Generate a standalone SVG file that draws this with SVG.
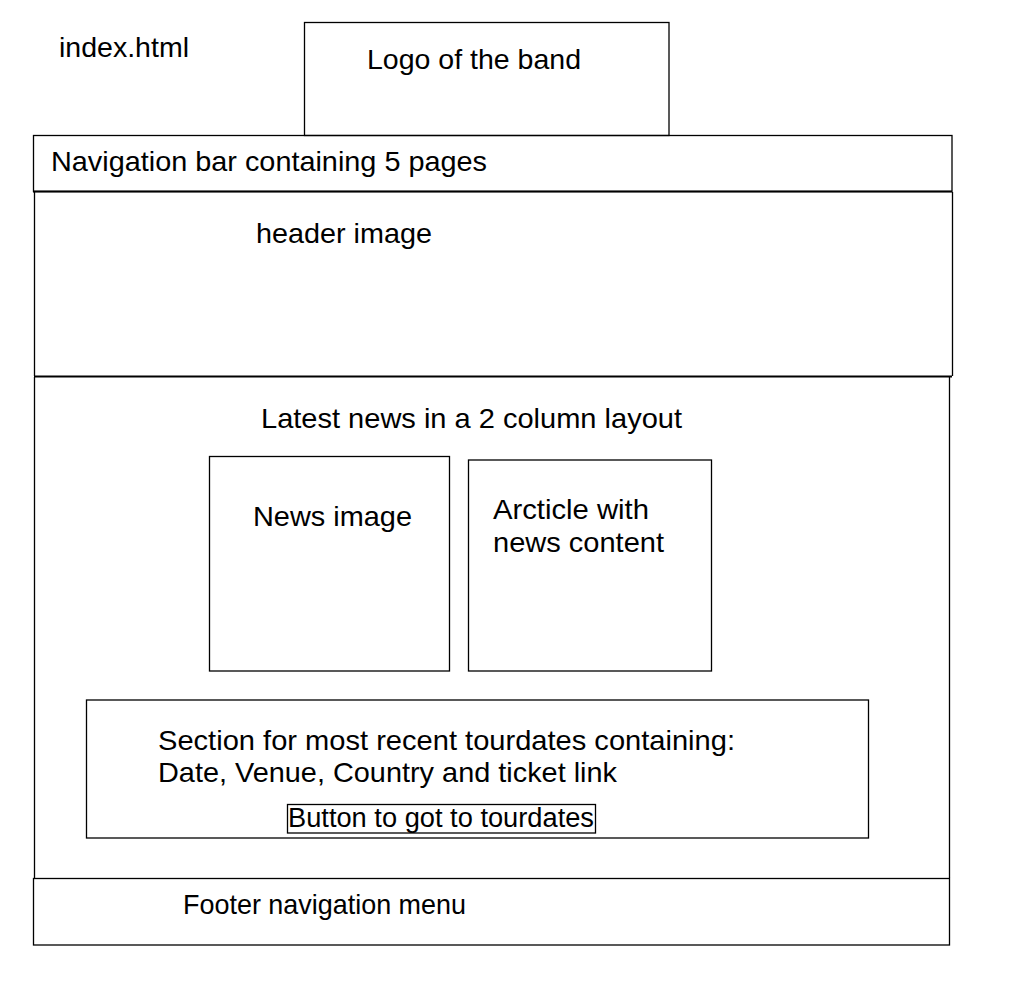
<svg xmlns="http://www.w3.org/2000/svg" width="1024" height="1001" viewBox="0 0 1024 1001">
<style>
.b{fill:none;stroke:#000;stroke-width:1.3}
.t{font-family:"Liberation Sans",Arial,sans-serif;font-size:28.5px;fill:#000}
</style>
<rect x="0" y="0" width="1024" height="1001" fill="#fff"/>
<g id="title"><text class="t" x="59" y="57" textLength="130" lengthAdjust="spacingAndGlyphs">index.html</text></g>
<g id="logo"><rect class="b" x="304.5" y="22.5" width="364.5" height="113"/><text class="t" x="367" y="68.5" textLength="214" lengthAdjust="spacingAndGlyphs">Logo of the band</text></g>
<g id="navbar"><rect class="b" x="33.5" y="135.5" width="918.5" height="56"/><line x1="33" y1="191.5" x2="952" y2="191.5" stroke="#000" stroke-width="2"/><text class="t" x="51" y="170.5" textLength="436" lengthAdjust="spacingAndGlyphs">Navigation bar containing 5 pages</text></g>
<g id="header"><path class="b" d="M34.5 192V376M952.5 192V376"/><line x1="34" y1="376.5" x2="952" y2="376.5" stroke="#000" stroke-width="2"/><text class="t" x="256" y="243" textLength="176" lengthAdjust="spacingAndGlyphs">header image</text></g>
<g id="main"><path class="b" d="M34.5 377V878M949.5 377V878"/><text class="t" x="261" y="427.5" textLength="421" lengthAdjust="spacingAndGlyphs">Latest news in a 2 column layout</text></g>
<g id="news-image"><rect class="b" x="209.5" y="456.5" width="240" height="214.5"/><text class="t" x="253" y="526" textLength="159" lengthAdjust="spacingAndGlyphs">News image</text></g>
<g id="article"><rect class="b" x="468.5" y="460" width="243" height="211"/><text class="t" x="493" y="519" textLength="156" lengthAdjust="spacingAndGlyphs">Arcticle with</text><text class="t" x="493" y="551.5" textLength="171" lengthAdjust="spacingAndGlyphs">news content</text></g>
<g id="tour"><rect class="b" x="86.5" y="700" width="782" height="138"/><text class="t" x="158" y="750" textLength="577" lengthAdjust="spacingAndGlyphs">Section for most recent tourdates containing:</text><text class="t" x="158" y="782" textLength="459" lengthAdjust="spacingAndGlyphs">Date, Venue, Country and ticket link</text></g>
<g id="button"><rect class="b" x="287.5" y="804.5" width="308" height="28.5"/><text class="t" x="288" y="826.5" style="font-size:27px" textLength="306" lengthAdjust="spacingAndGlyphs">Button to got to tourdates</text></g>
<g id="footer"><rect class="b" x="33.5" y="878.5" width="916" height="66.5"/><text class="t" x="183" y="913.5" textLength="283" lengthAdjust="spacingAndGlyphs">Footer navigation menu</text></g>
<g id="connectors"/>
</svg>
